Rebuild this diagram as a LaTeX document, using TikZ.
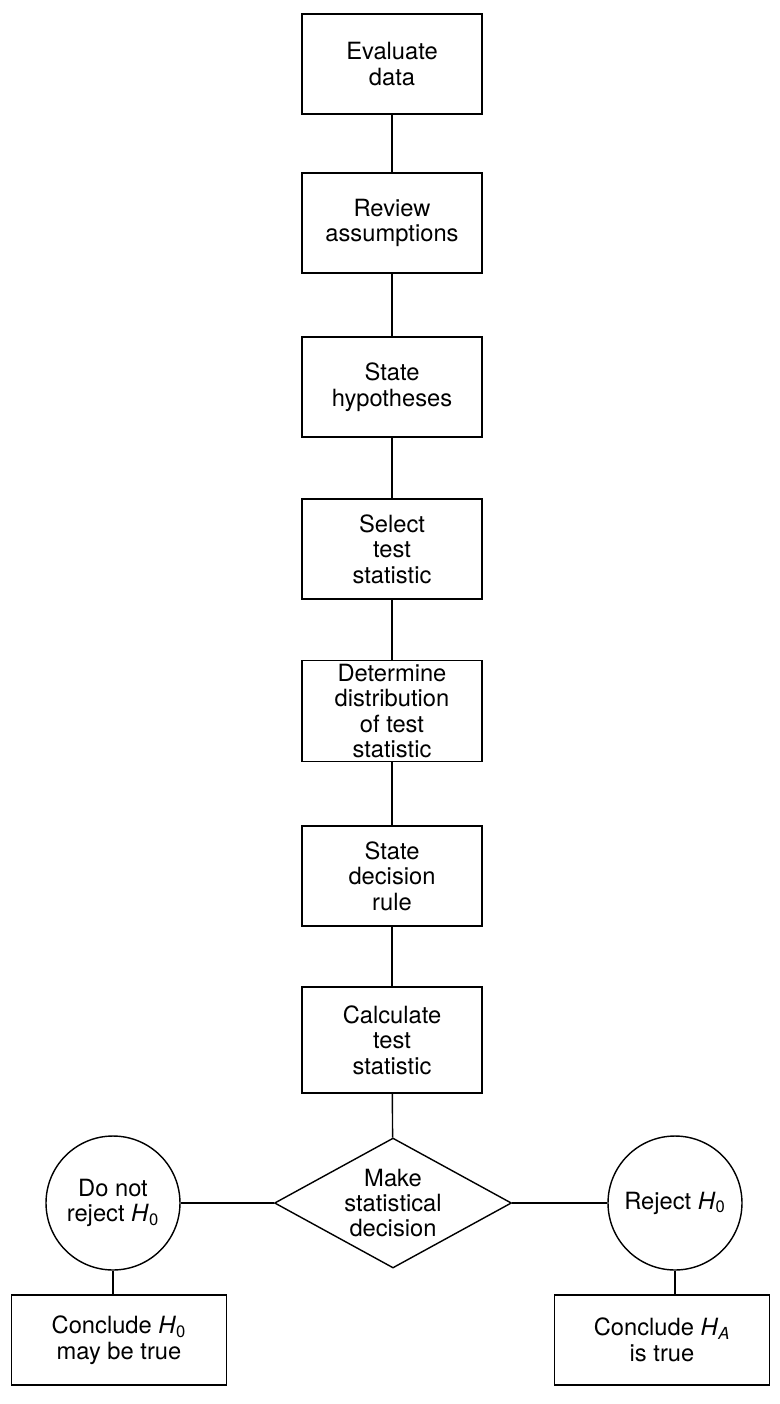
\documentclass[tikz,border=0pt]{standalone}
\usepackage{fontspec}
\setmainfont{TeX Gyre Heros}
\usetikzlibrary{shapes.geometric}

\tikzset{
	box/.style={draw, line width=0.8pt, minimum width=3.6cm, minimum height=2cm, align=center, inner sep=2pt},
	decision/.style={draw, diamond, aspect=1.8, line width=0.8pt, minimum width=4.74cm, minimum height=2.6cm, align=center, inner sep=0pt},
	outcome/.style={draw, circle, line width=0.8pt, minimum size=2.68cm, align=center, inner sep=0pt},
	endbox/.style={box, minimum width=4.3cm, minimum height=1.8cm},
}

\begin{document}
\begin{tikzpicture}[x=0.02cm, y=-0.02cm, line width=0.8pt, font=\fontsize{13.5}{14.5}\selectfont]
		\useasboundingbox (0, 0) rectangle (779, 1404);
		
		% Основная колонка
		\node[box] (eval)   at (392, 64)   {Evaluate\\data};
		\node[box] (review) at (392, 223)  {Review\\assumptions};
		\node[box] (hyp)    at (392, 387)  {State\\hypotheses};
		\node[box] (select) at (392, 549)  {Select\\test\\statistic};
		\node[box] (distr)  at (392, 711)  {Determine\\distribution\\of test\\statistic};
		\node[box] (rule)   at (392, 876)  {State\\decision\\rule};
		\node[box, minimum height=2.12cm] (calc) at (392, 1040) {Calculate\\test\\statistic};
		
		% Решение
		\node[decision] (decide) at (393, 1203) {Make\\statistical\\decision};
		\node[outcome]  (keep)   at (113, 1203) {Do not\\reject \textit{H}\textsubscript{0}};
		\node[outcome]  (reject) at (675, 1203) {Reject \textit{H}\textsubscript{0}};
		
		\node[endbox] (conckeep) at (119, 1340) {Conclude \textit{H}\textsubscript{0}\\may be true};
		\node[endbox] (concrej)  at (662, 1340) {Conclude \textit{H}\textsubscript{\textit{A}}\\is true};
		
		\draw (eval) -- (review);
		\draw (review) -- (hyp);
		\draw (hyp) -- (select);
		\draw (select) -- (distr);
		\draw (distr) -- (rule);
		\draw (rule) -- (calc);
		\draw (calc) -- (decide);
		\draw (decide) -- (keep);
		\draw (decide) -- (reject);
		\draw (keep.south) -- (keep.south |- conckeep.north);
		\draw (reject.south) -- (reject.south |- concrej.north);
	\end{tikzpicture}
\end{document}
